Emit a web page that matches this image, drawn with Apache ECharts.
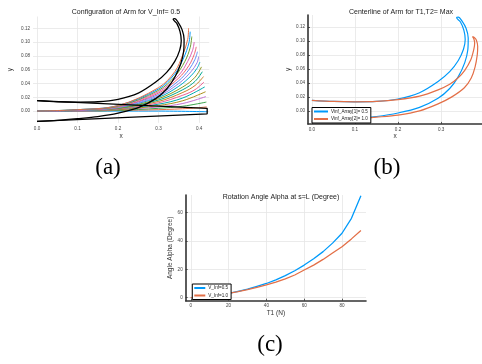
<!DOCTYPE html>
<html>
<head>
<meta charset="utf-8">
<script src="https://cdn.jsdelivr.net/npm/echarts@6/dist/echarts.min.js"></script>
<style>
  html, body { margin: 0; padding: 0; background: #fff; }
  #main { width: 482px; height: 364px; }
</style>
</head>
<body>
<div id="main"></div>
<script>
// (a) centerlines of the arm for increasing tension, V_Inf = 0.5
var centerlines = [
  [[0,0],[0.1,0],[0.2,0],[0.3,0],[0.42,-0.001]],
  [[0,0],[0.1,0],[0.2,0.001],[0.3,0.002],[0.38,0.004],[0.419,0.006]],
  [[0,0],[0.1,0],[0.2,0.001],[0.3,0.004],[0.36,0.007],[0.418,0.013]],
  [[0,0],[0.1,0],[0.2,0.002],[0.3,0.006],[0.36,0.011],[0.417,0.021]],
  [[0,0],[0.1,0.0005],[0.2,0.002],[0.3,0.008],[0.36,0.015],[0.416,0.028]],
  [[0,0],[0.1,0.0005],[0.2,0.003],[0.3,0.010],[0.36,0.019],[0.414,0.035]],
  [[0,0],[0.1,0.0005],[0.2,0.003],[0.3,0.012],[0.36,0.023],[0.39,0.031],[0.412,0.042]],
  [[0,0],[0.1,0.001],[0.2,0.004],[0.3,0.014],[0.36,0.027],[0.39,0.037],[0.411,0.050]],
  [[0,0],[0.1,0.001],[0.2,0.004],[0.3,0.016],[0.36,0.031],[0.39,0.043],[0.408,0.057]],
  [[0,0],[0.1,0.001],[0.2,0.004],[0.3,0.018],[0.36,0.035],[0.39,0.049],[0.406,0.064]],
  [[0,0],[0.1,0.001],[0.2,0.005],[0.3,0.020],[0.35,0.036],[0.38,0.051],[0.395,0.062],[0.402,0.071]],
  [[0,0],[0.1,0.001],[0.2,0.005],[0.3,0.022],[0.35,0.040],[0.38,0.057],[0.395,0.070],[0.399,0.079]],
  [[0,0],[0.1,0.0015],[0.2,0.006],[0.3,0.024],[0.35,0.044],[0.375,0.060],[0.39,0.075],[0.396,0.086]],
  [[0,0],[0.1,0.0015],[0.2,0.006],[0.3,0.026],[0.35,0.048],[0.375,0.066],[0.388,0.082],[0.393,0.093]],
  [[0,0],[0.1,0.0015],[0.2,0.007],[0.3,0.028],[0.35,0.052],[0.372,0.072],[0.384,0.088],[0.388,0.100]],
  [[0,0],[0.1,0.002],[0.2,0.007],[0.3,0.030],[0.34,0.050],[0.365,0.072],[0.378,0.092],[0.382,0.108]],
  [[0,0],[0.1,0.002],[0.2,0.008],[0.3,0.032],[0.34,0.054],[0.362,0.077],[0.375,0.099],[0.378,0.115]],
  [[0,0],[0.1,0.002],[0.2,0.008],[0.3,0.034],[0.34,0.057],[0.36,0.082],[0.372,0.104],[0.374,0.120]]
];
// straight (unloaded) arm outline
var straightArm = [[0,0.015],[0.42,0.004],[0.42,-0.004],[0,-0.015]];
// bent arm outline, V_Inf = 0.5 (upper edge out to tip, lower edge back)
var armV05 = [
  [0,0.015],[0.05,0.0135],[0.1,0.013],[0.15,0.0135],[0.2,0.017],[0.25,0.026],[0.293,0.042],
  [0.32,0.056],[0.34,0.072],[0.352,0.088],[0.356,0.102],[0.353,0.115],[0.345,0.127],[0.336,0.133],
  [0.34,0.134],[0.348,0.129],[0.358,0.118],[0.363,0.104],[0.362,0.087],[0.355,0.069],[0.34,0.049],
  [0.32,0.032],[0.293,0.018],[0.25,0.005],[0.2,-0.003],[0.15,-0.008],[0.1,-0.011],[0.05,-0.0135],[0,-0.015]
];
// bent arm outline, V_Inf = 1.0
var armV10 = [
  [0,0.015],[0.05,0.0135],[0.1,0.013],[0.15,0.0135],[0.2,0.016],[0.25,0.021],[0.293,0.030],
  [0.32,0.038],[0.339,0.047],[0.355,0.058],[0.369,0.073],[0.376,0.088],[0.378,0.097],[0.376,0.103],[0.373,0.106],
  [0.377,0.105],[0.382,0.101],[0.385,0.092],[0.384,0.080],[0.379,0.063],[0.37,0.047],[0.354,0.033],
  [0.325,0.020],[0.293,0.010],[0.25,0.000],[0.2,-0.006],[0.15,-0.009],[0.1,-0.0115],[0.05,-0.0135],[0,-0.015]
];
// (c) rotation angle at s=L vs T1
var tension = [0, 5, 10, 15, 20, 25, 30, 35, 40, 45, 50, 55, 60, 65, 70, 75, 80, 85, 90];
var alphaV05 = [0, 0.6, 1.3, 2.1, 3, 4.5, 6, 8, 10, 12.5, 15.5, 19, 23, 27.5, 32.5, 38.5, 45.5, 56, 72];
var alphaV10 = [0, 0.6, 1.3, 2.1, 3, 4.3, 5.7, 7.2, 9, 11, 13.3, 16, 19.5, 23, 27, 31.5, 36, 41.5, 47.5];

var palette = ['#009AFA','#E36F47','#3EA44E','#C371D2','#AC8E18','#00AAAE','#ED5E93','#C68225',
  '#00A98D','#8E971E','#00A9C9','#9B7FE8','#618CF6','#F06073','#DD65B7','#6C9F33','#009AFA','#E36F47'];

var FONT = 'Liberation Sans';
var GRID = '#e6e6e6';
var NONE = 'rgba(0,0,0,0)';

function edgeColors(n) {
  var c = [];
  for (var i = 0; i < n; i++) c.push(i === 0 || i === n - 1 ? NONE : GRID);
  return c;
}

function valAxis(idx, min, max, split, digits, name, gap, nticks, boxed) {
  return {
    type: 'value', gridIndex: idx, min: min, max: max, splitNumber: split,
    name: name, nameLocation: 'middle', nameGap: gap,
    nameTextStyle: { fontFamily: FONT, fontSize: 6.5, color: '#333' },
    axisLine: { show: boxed, onZero: false, lineStyle: { color: '#333', width: 1.6 } },
    axisTick: { show: boxed, length: 2, inside: true, lineStyle: { color: '#333', width: 0.8 } },
    axisLabel: {
      fontFamily: FONT, fontSize: 4.6, color: '#444', margin: 3,
      showMinLabel: false, showMaxLabel: false,
      formatter: function (v) { return v.toFixed(digits); }
    },
    splitLine: { show: true, lineStyle: { color: edgeColors(nticks), width: 0.8 } }
  };
}

var series = [];
centerlines.forEach(function (pts, i) {
  series.push({
    type: 'line', xAxisIndex: 0, yAxisIndex: 0, data: pts, smooth: 0.35,
    symbol: 'none', lineStyle: { color: palette[i], width: 1 }, z: 2
  });
});
series.push({
  type: 'line', xAxisIndex: 0, yAxisIndex: 0, data: straightArm, symbol: 'none',
  lineStyle: { color: '#000', width: 1.3 }, z: 3
});
series.push({
  type: 'line', xAxisIndex: 0, yAxisIndex: 0, data: armV05, symbol: 'none', smooth: 0.3,
  lineStyle: { color: '#000', width: 1.3 }, z: 3
});
series.push({
  name: 'Vinf_Array[1]= 0.5', type: 'line', xAxisIndex: 1, yAxisIndex: 1, data: armV05,
  symbol: 'none', smooth: 0.3, lineStyle: { color: '#009AFA', width: 1.2 }, itemStyle: { color: '#009AFA' }
});
series.push({
  name: 'Vinf_Array[2]= 1.0', type: 'line', xAxisIndex: 1, yAxisIndex: 1, data: armV10,
  symbol: 'none', smooth: 0.3, lineStyle: { color: '#E36F47', width: 1.2 }, itemStyle: { color: '#E36F47' }
});
series.push({
  name: 'V_Inf=0.5', type: 'line', xAxisIndex: 2, yAxisIndex: 2,
  data: tension.map(function (t, i) { return [t, alphaV05[i]]; }),
  symbol: 'none', lineStyle: { color: '#009AFA', width: 1.3 }, itemStyle: { color: '#009AFA' }
});
series.push({
  name: 'V_Inf=1.0', type: 'line', xAxisIndex: 2, yAxisIndex: 2,
  data: tension.map(function (t, i) { return [t, alphaV10[i]]; }),
  symbol: 'none', lineStyle: { color: '#E36F47', width: 1.3 }, itemStyle: { color: '#E36F47' }
});

function legendBox(left, top, names, w) {
  return {
    data: names, left: left, top: top, orient: 'vertical',
    icon: 'rect', itemWidth: w, itemHeight: 2, itemGap: 2.5, padding: [1.5, 3, 1.5, 2],
    borderColor: '#000', borderWidth: 1, backgroundColor: '#fff', borderRadius: 0,
    selectedMode: false,
    textStyle: { fontFamily: FONT, fontSize: 4.6, color: '#222', padding: [0, 0, 0, -2] }
  };
}

var titleStyle = { fontFamily: FONT, fontSize: 7, fontWeight: 'normal', color: '#222' };

function panelLabel(text, x, y) {
  return { type: 'text', style: { text: text, x: x, y: y, align: 'center', verticalAlign: 'middle',
    font: '23px "Liberation Serif"', fill: '#000' } };
}

var option = {
  animation: false,
  backgroundColor: '#fff',
  title: [
    { text: 'Configuration of Arm for V_Inf= 0.5', left: 121, top: 4, textAlign: 'center', textStyle: titleStyle },
    { text: 'Centerline of Arm for T1,T2= Max', left: 396, top: 4, textAlign: 'center', textStyle: titleStyle },
    { text: 'Rotation Angle Alpha at s=L (Degree)', left: 276, top: 189, textAlign: 'center', textStyle: titleStyle }
  ],
  legend: [
    legendBox(312, 107.5, ['Vinf_Array[1]= 0.5', 'Vinf_Array[2]= 1.0'], 14),
    legendBox(192.3, 284, ['V_Inf=0.5', 'V_Inf=1.0'], 11)
  ],
  grid: [
    { left: 33, top: 16.5, width: 176.2, height: 106.3 },
    { left: 308, top: 15, width: 177, height: 108.9 },
    { left: 185.7, top: 195, width: 180.3, height: 105.7 }
  ],
  xAxis: [
    valAxis(0, -0.01, 0.425, 5, 1, 'x', 10, 7, false),
    valAxis(1, -0.009, 0.395, 5, 1, 'x', 9, 7, true),
    valAxis(2, -2.7, 92.7, 5, 0, 'T1 (N)', 8, 7, true)
  ],
  yAxis: [
    valAxis(0, -0.017, 0.137, 7, 2, 'y', 19, 9, false),
    valAxis(1, -0.0186, 0.137, 7, 2, 'y', 16, 9, true),
    valAxis(2, -2.16, 72.5, 4, 0, 'Angle Alpha (Degree)', 12, 6, true)
  ],
  graphic: [
    panelLabel('(a)', 108, 168),
    panelLabel('(b)', 387, 168),
    panelLabel('(c)', 270, 345)
  ],
  series: series
};

var chart = echarts.init(document.getElementById('main'), null, { renderer: 'canvas' });
chart.setOption(option);
</script>
</body>
</html>
